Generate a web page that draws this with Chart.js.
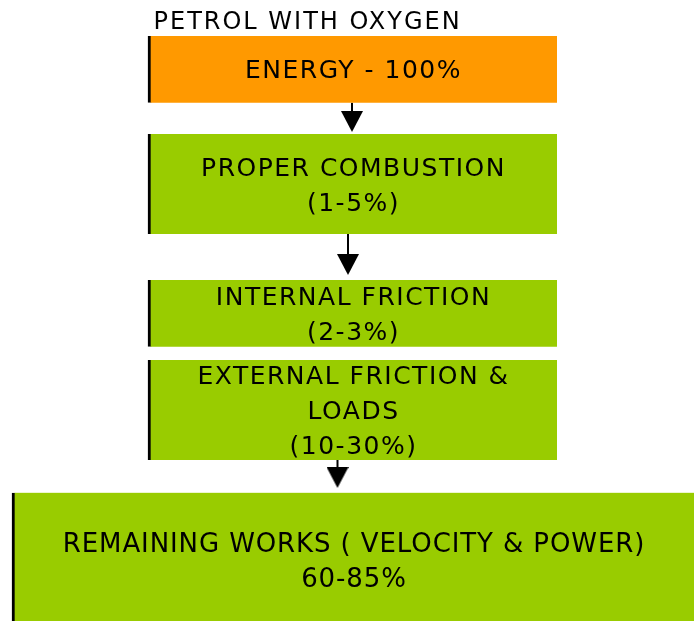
<!DOCTYPE html>
<html>
<head>
<meta charset="utf-8">
<script src="https://cdn.jsdelivr.net/npm/chart.js@4.4.1/dist/chart.umd.min.js"></script>
<style>
  html, body { margin: 0; padding: 0; background: #fff; }
  #wrap { width: 696px; height: 621px; }
</style>
</head>
<body>
<div id="wrap"><canvas id="flow"></canvas></div>
<script>
// text of each block, top to bottom ("|" = line break)
const stageNames = ["ENERGY - 100%", "PROPER COMBUSTION", "INTERNAL FRICTION", "EXTERNAL FRICTION &|LOADS", "REMAINING WORKS ( VELOCITY & POWER)"];
const stageShares = ["", "(1-5%)", "(2-3%)", "(10-30%)", "60-85%"];
const topLabel = "PETROL WITH OXYGEN";
const blockColors = ["#ff9900", "#99cc00", "#99cc00", "#99cc00", "#99cc00"];

// where the blocks sit, in axis units (x runs 0-696, y runs 0-621 downwards)
const blockLeft = [148, 148, 148, 148, 12];
const blockRight = [557, 557, 557, 557, 694];
const blockTop = [36, 134, 280, 360, 492.7];
const blockBottom = [102.7, 234, 346.7, 460, 627];

// arrows between blocks: shaft start and arrow head base
const arrowX = [352, 348, 337.5];
const arrowFrom = [102.7, 234, 460];
const arrowHeadBase = [111, 254, 467];

// arrow head drawn once, used as point style (tip at bottom, base at centre)
const head = document.createElement("canvas");
head.width = 22;
head.height = 42;
const hc = head.getContext("2d");
hc.fillStyle = "#000";
hc.beginPath();
hc.moveTo(0, 21);
hc.lineTo(22, 21);
hc.lineTo(11, 42);
hc.closePath();
hc.fill();

const bars = stageNames.map((name, i) => ({
  type: "bar",
  label: name,
  data: [{ x: (blockLeft[i] + blockRight[i]) / 2, y: [blockTop[i], blockBottom[i]] }],
  barThickness: blockRight[i] - blockLeft[i],
  grouped: false,
  backgroundColor: blockColors[i],
  borderColor: "#000",
  borderWidth: { left: 3, top: 0, right: 0, bottom: 0 },
  borderSkipped: false,
}));

const arrows = arrowX.map((ax, i) => ({
  type: "line",
  label: "arrow " + (i + 1),
  data: [{ x: ax, y: arrowFrom[i] }, { x: ax, y: arrowHeadBase[i] }],
  borderColor: "#000",
  borderWidth: 2,
  pointRadius: [0, 5],
  pointHoverRadius: 0,
  pointStyle: head,
  fill: false,
  clip: false,
}));

const textPlugin = {
  id: "blockText",
  afterDatasetsDraw(chart) {
    const { ctx, scales: { x, y } } = chart;
    ctx.save();
    ctx.fillStyle = "#000";
    ctx.textAlign = "center";
    ctx.textBaseline = "alphabetic";
    stageNames.forEach((name, i) => {
      const lines = name.split("|");
      if (stageShares[i]) lines.push(stageShares[i]);
      const last = i === stageNames.length - 1;
      const size = last ? 26 : 25;
      const gap = last ? 34.5 : 35;
      const cap = size * 0.729;
      ctx.font = size + "px 'DejaVu Sans'";
      ctx.letterSpacing = (last ? 0.9 : 1.5) + "px";
      const cx = x.getPixelForValue((blockLeft[i] + blockRight[i]) / 2) + 1;
      const cy = y.getPixelForValue((blockTop[i] + blockBottom[i]) / 2);
      const base = cy - (cap + gap * (lines.length - 1)) / 2 + cap;
      lines.forEach((t, k) => ctx.fillText(t, cx, base + k * gap));
    });
    // label above the first block
    ctx.textAlign = "left";
    ctx.font = "24px 'DejaVu Sans'";
    ctx.letterSpacing = "2px";
    ctx.fillText(topLabel, x.getPixelForValue(153.5), y.getPixelForValue(28.5));
    ctx.restore();
  },
};

new Chart(document.getElementById("flow"), {
  type: "bar",
  data: { datasets: [...bars, ...arrows] },
  options: {
    responsive: true,
    maintainAspectRatio: false,
    animation: false,
    events: [],
    layout: { padding: 0, autoPadding: false },
    plugins: {
      legend: { display: false },
      tooltip: { enabled: false },
    },
    scales: {
      x: { type: "linear", min: 0, max: 696, display: false, offset: false },
      y: { type: "linear", min: 0, max: 621, reverse: true, display: false },
    },
  },
  plugins: [textPlugin],
});
</script>
</body>
</html>
